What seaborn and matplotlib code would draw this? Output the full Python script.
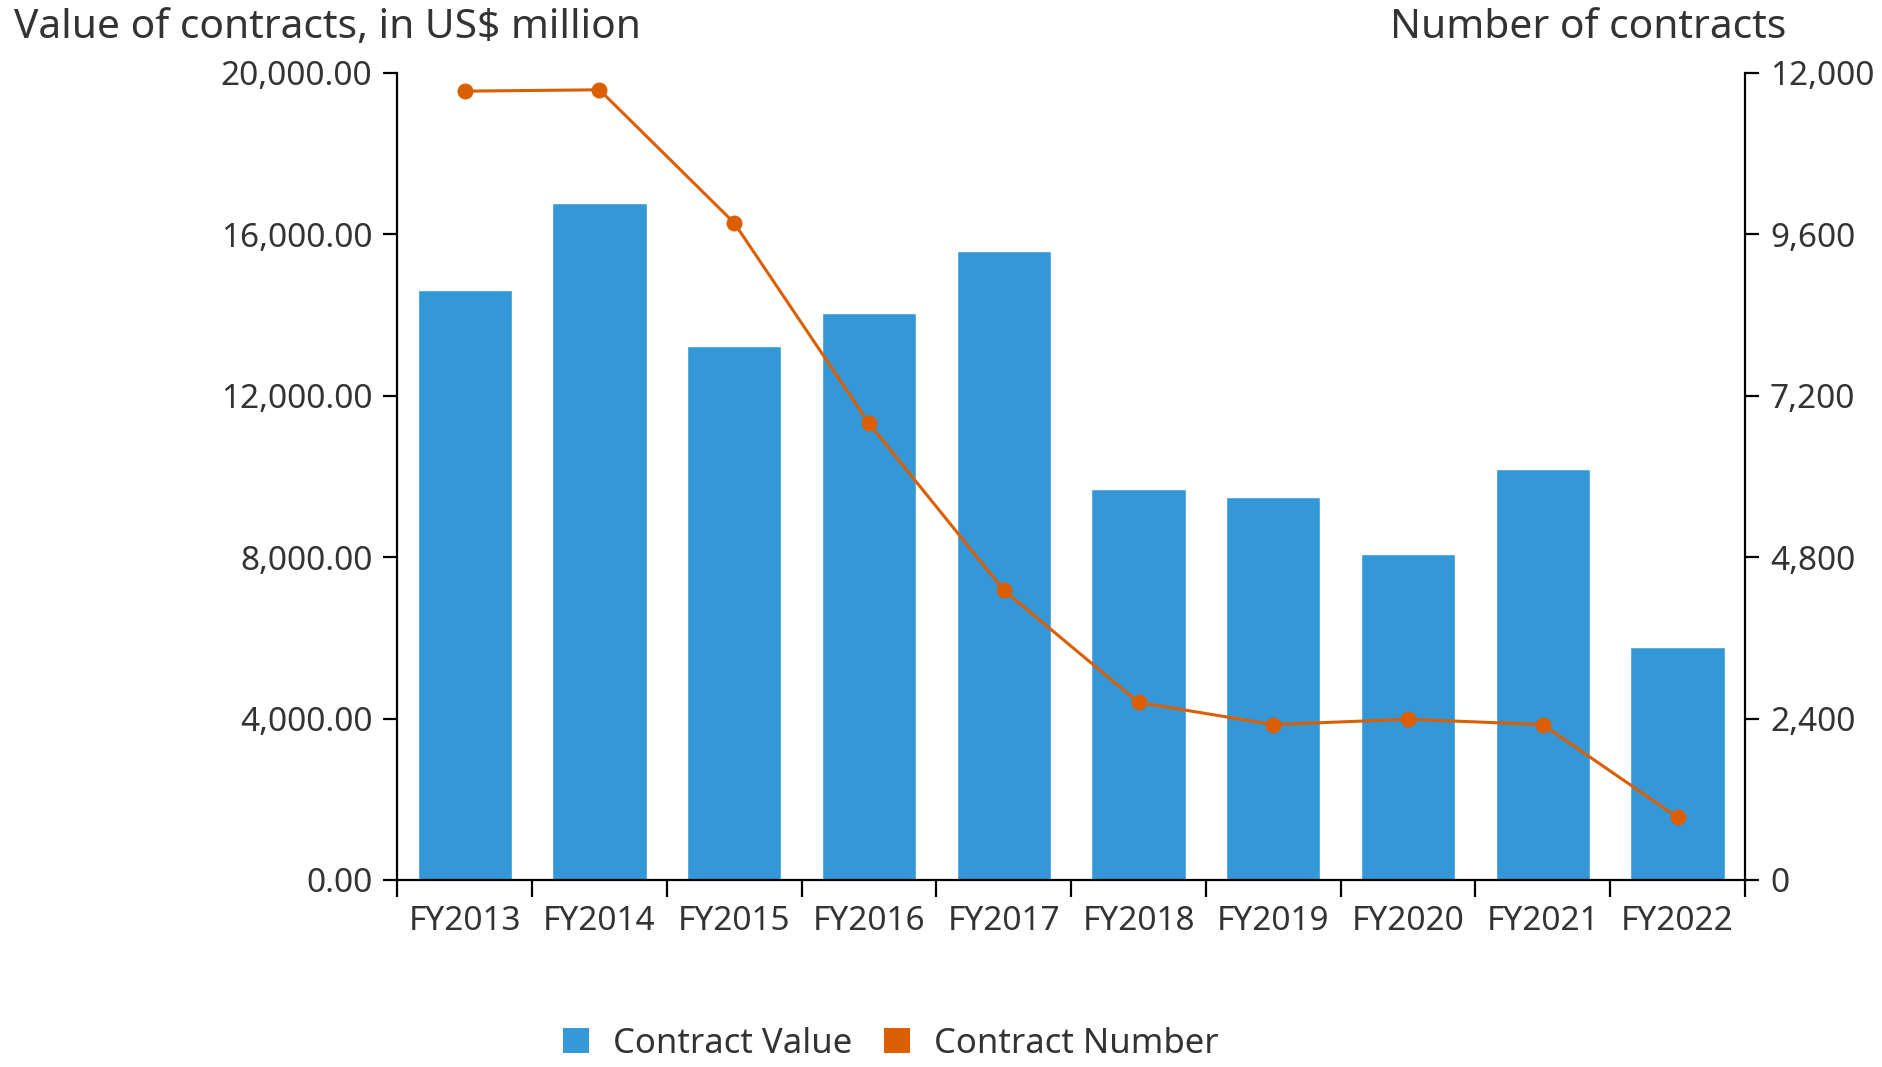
import numpy as np
import pandas as pd
import matplotlib
matplotlib.use("Agg")
import matplotlib.pyplot as plt
from matplotlib.patches import Patch
from matplotlib.ticker import FuncFormatter, FixedLocator
import seaborn as sns

# ---- data ----
years = ["FY2013", "FY2014", "FY2015", "FY2016", "FY2017",
         "FY2018", "FY2019", "FY2020", "FY2021", "FY2022"]
contract_value = [14630, 16780, 13240, 14040, 15590, 9690, 9490, 8090, 10180, 5770]
contract_number = [11730, 11750, 9770, 6790, 4310, 2640, 2310, 2390, 2310, 930]
left_ticks = [0, 4000, 8000, 12000, 16000, 20000]
right_ticks = [0, 2400, 4800, 7200, 9600, 12000]

BLUE = "#3498d8"
ORANGE = "#db5e00"
TXT = "#333333"

sns.set_theme(style="white")
plt.rcParams["font.family"] = ["Noto Sans", "DejaVu Sans"]

df = pd.DataFrame({"year": years, "value": contract_value, "number": contract_number})

fig = plt.figure(figsize=(18.83, 10.67), dpi=100)
ax = fig.add_axes([0.211, 0.1753, 0.7157, 0.7563])

sns.barplot(data=df, x="year", y="value", color=BLUE, saturation=1, width=0.70, ax=ax)
ax2 = ax.twinx()
sns.lineplot(x=np.arange(len(years)), y=df["number"], color=ORANGE, marker="o",
             markersize=11.5, markeredgewidth=0, linewidth=2.2, ax=ax2)

ax2.set_xlim(-0.5, len(years) - 0.5)
ax.set_ylim(0, 20000)
ax2.set_ylim(0, 12000)

for a in (ax, ax2):
    a.set_xlabel("")
    a.set_ylabel("")
    for s in a.spines.values():
        s.set_color("black")
        s.set_linewidth(1.6)
    a.spines["top"].set_visible(False)

ax.spines["right"].set_visible(False)
ax2.spines["left"].set_visible(False)
ax2.spines["bottom"].set_visible(False)

ax.yaxis.set_major_locator(FixedLocator(left_ticks))
ax.yaxis.set_major_formatter(FuncFormatter(lambda v, p: f"{v:,.2f}"))
ax2.yaxis.set_major_locator(FixedLocator(right_ticks))
ax2.yaxis.set_major_formatter(FuncFormatter(lambda v, p: f"{v:,.0f}"))

# x: tick marks at category boundaries, labels centered
ax.set_xticks(np.arange(len(years)))
ax.set_xticklabels(years)
ax.set_xticks(np.arange(-0.5, len(years)), minor=True)
ax.set_xlim(-0.5, len(years) - 0.5)
ax.tick_params(axis="x", which="major", bottom=True, length=0, pad=18,
               labelsize=24, labelcolor=TXT)
ax.tick_params(axis="x", which="minor", bottom=True, length=12, width=1.6, color="black")
ax2.tick_params(axis="x", which="both", top=False, labeltop=False)

ax.tick_params(axis="y", which="major", left=True, length=10, width=1.6, color="black",
               pad=8, labelsize=24, labelcolor=TXT)
ax2.tick_params(axis="y", which="major", right=True, length=10, width=1.6, color="black",
                pad=8, labelsize=24, labelcolor=TXT)

fig.text(14 / 1883, 1 - 28 / 1067, "Value of contracts, in US$ million",
         ha="left", va="center", fontsize=29.3, color=TXT)
fig.text(1786 / 1883, 1 - 28 / 1067, "Number of contracts",
         ha="right", va="center", fontsize=29.3, color=TXT)

handles = [Patch(facecolor=BLUE, edgecolor="none", label="Contract Value"),
           Patch(facecolor=ORANGE, edgecolor="none", label="Contract Number")]
leg = fig.legend(handles=handles, loc="center", bbox_to_anchor=(0.473, 0.022), ncol=2,
                 frameon=False, fontsize=25, handlelength=0.75, handleheight=0.75,
                 handletextpad=0.7, columnspacing=0.9)
for t in leg.get_texts():
    t.set_color(TXT)

fig.savefig("out.png", dpi=100)
